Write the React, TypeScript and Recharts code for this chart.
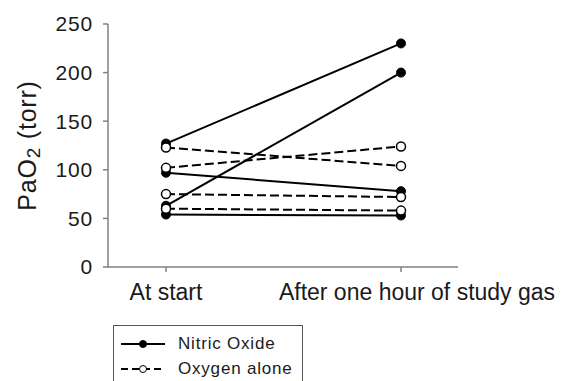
import React from 'react';
import { LineChart, Line, XAxis, YAxis } from 'recharts';

const categories = ['At start', 'After one hour of study gas'];
// paired patient values, start -> after one hour
const nitricStart = [127, 63, 97, 54];
const nitricEnd = [230, 200, 78, 53];
const oxygenStart = [123, 102, 75, 60];
const oxygenEnd = [104, 124, 72, 58];
const yTicks = [0, 50, 100, 150, 200, 250];

const data = categories.map((name, i) => {
  const row: Record<string, string | number> = { name };
  nitricStart.forEach((v, k) => {
    row[`no${k}`] = i === 0 ? v : nitricEnd[k];
  });
  oxygenStart.forEach((v, k) => {
    row[`ox${k}`] = i === 0 ? v : oxygenEnd[k];
  });
  return row;
});

const FONT = '"Liberation Sans", Arial, sans-serif';
const AXIS = '#808080';
const TEXT = '#1a1a1a';

function YLabel(props: any) {
  const vb = props.viewBox || { x: 8, y: 24, width: 100, height: 243 };
  const cx = vb.x + 19;
  const cy = vb.y + vb.height / 2;
  return (
    <text
      x={cx}
      y={cy}
      transform={`rotate(-90 ${cx} ${cy})`}
      textAnchor="middle"
      dominantBaseline="central"
      fontFamily={FONT}
      fontSize={25}
      letterSpacing={0.8}
      fill={TEXT}
    >
      PaO<tspan dy={6} fontSize={19}>2</tspan>
      <tspan dy={-6}> (torr)</tspan>
    </text>
  );
}

// category labels: the long one sits a bit right of its tick, as in the original
function XTick(props: any) {
  const { x, y, payload, index } = props;
  const dx = index === categories.length - 1 ? 16 : 0;
  return (
    <text
      x={x + dx}
      y={y}
      dy="0.71em"
      textAnchor="middle"
      fontFamily={FONT}
      fontSize={23}
      fill={TEXT}
    >
      {payload.value}
    </text>
  );
}

function LegendSample({ open }: { open: boolean }) {
  return (
    <svg width={46} height={12} style={{ display: 'block' }}>
      <line
        x1={1}
        x2={45}
        y1={6}
        y2={6}
        stroke="#000"
        strokeWidth={2}
        strokeDasharray={open ? '7 4' : undefined}
      />
      <circle cx={23} cy={6} r={3.5} fill={open ? '#fff' : '#000'} stroke="#000" strokeWidth={1} />
    </svg>
  );
}

export default function App() {
  return (
    <div style={{ position: 'relative', width: 564, height: 381, background: '#fff', overflow: 'hidden' }}>
      <style>{`body{margin:0;overflow:hidden}`}</style>
      <LineChart
        width={564}
        height={381}
        data={data}
        margin={{ top: 24, right: 106, left: 8, bottom: 74 }}
      >
        <XAxis
          dataKey="name"
          padding={{ left: 58, right: 57 }}
          height={40}
          stroke={AXIS}
          strokeWidth={1.5}
          tickSize={5}
          tickMargin={12}
          tick={<XTick />}
          tickLine={{ stroke: AXIS }}
          interval={0}
        />
        <YAxis
          width={100}
          domain={[0, 250]}
          ticks={yTicks}
          stroke={AXIS}
          strokeWidth={1.5}
          tickSize={5}
          tickMargin={10}
          tick={{ fill: TEXT, fontSize: 21, fontFamily: FONT, letterSpacing: 0.8 }}
          tickLine={{ stroke: AXIS }}
          label={<YLabel />}
        />
        {nitricStart.map((_, k) => (
          <Line
            key={`no${k}`}
            dataKey={`no${k}`}
            stroke="#000"
            strokeWidth={2}
            dot={{ r: 4.5, fill: '#000', stroke: '#000', strokeWidth: 1 }}
            isAnimationActive={false}
          />
        ))}
        {oxygenStart.map((_, k) => (
          <Line
            key={`ox${k}`}
            dataKey={`ox${k}`}
            stroke="#000"
            strokeWidth={2}
            strokeDasharray="9 4"
            dot={{ r: 4.5, fill: '#fff', stroke: '#000', strokeWidth: 1.5, strokeDasharray: '' }}
            isAnimationActive={false}
          />
        ))}
      </LineChart>
      <div
        style={{
          position: 'absolute',
          left: 113,
          top: 325,
          width: 190,
          height: 70,
          border: '1px solid #555',
          fontFamily: FONT,
          fontSize: 17,
          color: TEXT,
          boxSizing: 'border-box',
          paddingTop: 5,
        }}
      >
        {[
          { name: 'Nitric Oxide', open: false },
          { name: 'Oxygen alone', open: true },
        ].map((item) => (
          <div key={item.name} style={{ display: 'flex', alignItems: 'center', height: 25, paddingLeft: 6 }}>
            <LegendSample open={item.open} />
            <span style={{ marginLeft: 12, letterSpacing: 0.8 }}>{item.name}</span>
          </div>
        ))}
      </div>
    </div>
  );
}
